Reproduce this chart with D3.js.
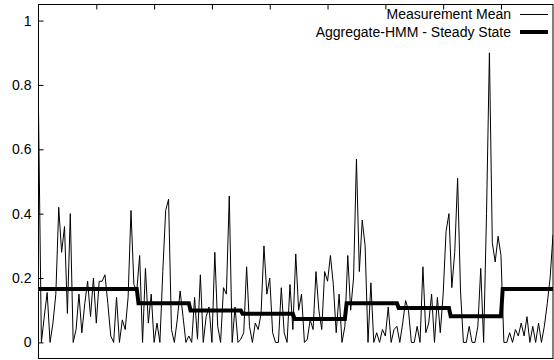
<!DOCTYPE html>
<html>
<head>
<meta charset="utf-8">
<script src="https://cdn.jsdelivr.net/npm/d3@7"></script>
<style>
  html, body { margin: 0; padding: 0; background: #fff; }
  svg { display: block; font-family: "Liberation Sans", Arial, sans-serif; }
</style>
</head>
<body>
<figure id="chart" style="margin:0"></figure>
<script>
// measurement mean, one value every 5 x-units (0 .. 890)
const measStep = 5;
const measValues = [
  0.72, 0.0, 0.08, 0.155, 0.0, 0.06, 0.15, 0.42, 0.28, 0.36,
  0.09, 0.40, 0.0, 0.04, 0.15, 0.03, 0.12, 0.19, 0.08, 0.20,
  0.06, 0.19, 0.19, 0.21, 0.12, 0.02, 0.0, 0.14, 0.0, 0.07,
  0.04, 0.14, 0.41, 0.18, 0.16, 0.27, 0.0, 0.23, 0.06, 0.15,
  0.0, 0.06, 0.0, 0.22, 0.41, 0.445, 0.04, 0.0, 0.07, 0.16,
  0.08, 0.0, 0.02, 0.0, 0.14, 0.01, 0.21, 0.0, 0.08, 0.11,
  0.0, 0.28, 0.05, 0.0, 0.17, 0.15, 0.455, 0.0, 0.11, 0.0,
  0.01, 0.03, 0.235, 0.05, 0.0, 0.06, 0.04, 0.09, 0.30, 0.15,
  0.20, 0.03, 0.0, 0.0, 0.17, 0.03, 0.0, 0.18, 0.04, 0.275,
  0.10, 0.15, 0.0, 0.01, 0.07, 0.04, 0.22, 0.10, 0.04, 0.22,
  0.19, 0.27, 0.18, 0.03, 0.15, 0.0, 0.05, 0.27, 0.10, 0.20,
  0.57, 0.22, 0.38, 0.30, 0.0, 0.185, 0.0, 0.03, 0.0, 0.04,
  0.02, 0.11, 0.0, 0.04, 0.05, 0.0, 0.06, 0.13, 0.10, 0.0,
  0.0, 0.05, 0.0, 0.235, 0.03, 0.06, 0.15, 0.0, 0.14, 0.03,
  0.15, 0.345, 0.40, 0.17, 0.28, 0.51, 0.16, 0.0, 0.0, 0.05,
  0.0, 0.0, 0.05, 0.23, 0.0, 0.40, 0.90, 0.31, 0.25, 0.33,
  0.27, 0.0, 0.0, 0.03, 0.0, 0.04, 0.02, 0.06, 0.02, 0.08,
  0.0, 0.05, 0.0, 0.06, 0.0, 0.05, 0.12, 0.20, 0.335
];

// aggregate HMM steady state levels between the edges
const stateEdges = [0, 170, 260, 350, 440, 530, 620, 710, 800, 890];
const stateLevels = [0.166, 0.122, 0.099, 0.089, 0.073, 0.122, 0.107, 0.081, 0.166];

const yTicks = [0, 0.2, 0.4, 0.6, 0.8, 1];
const xTicks = [100, 200, 300, 400, 500, 600, 700, 800];
const seriesNames = ["Measurement Mean", "Aggregate-HMM - Steady State"];

const width = 554;
const height = 360;
const margin = { top: 4.5, right: 1, bottom: 1.5, left: 38.5 };

const svg = d3.select("figure#chart")
  .append("svg")
  .attr("width", width)
  .attr("height", height);

const x = d3.scaleLinear()
  .domain([0, 890])
  .range([margin.left, width - margin.right]);

const y = d3.scaleLinear()
  .domain([-0.05, 1.05])
  .range([height - margin.bottom, margin.top]);

svg.append("clipPath")
  .attr("id", "plot-clip")
  .append("rect")
  .attr("x", x(0))
  .attr("y", y(1.05))
  .attr("width", x(890) - x(0))
  .attr("height", y(-0.05) - y(1.05));

// y axis, ticks pointing into the plot
const yAxis = svg.append("g")
  .attr("transform", "translate(" + x(0) + ",0)")
  .call(d3.axisRight(y).tickValues(yTicks).tickSize(5).tickFormat(d3.format("~g")));
yAxis.select(".domain").remove();
yAxis.selectAll("line").attr("stroke", "#000");
yAxis.selectAll("text")
  .attr("x", -7)
  .attr("text-anchor", "end")
  .attr("fill", "#000")
  .style("font-size", "14px");

// top ticks pointing down
const topAxis = svg.append("g")
  .attr("transform", "translate(0," + y(1.05) + ")")
  .call(d3.axisBottom(x).tickValues(xTicks).tickSize(5).tickFormat(""));
topAxis.select(".domain").remove();
topAxis.selectAll("line").attr("stroke", "#000");

// measurement mean
const measLine = d3.line()
  .x((d, i) => x(i * measStep))
  .y(d => y(d));

svg.append("path")
  .datum(measValues)
  .attr("clip-path", "url(#plot-clip)")
  .attr("fill", "none")
  .attr("stroke", "#000")
  .attr("stroke-width", 1)
  .attr("d", measLine);

// steady state as a step line
const statePoints = [];
stateLevels.forEach((v, i) => {
  statePoints.push([stateEdges[i] + (i > 0 ? 3 : 0), v]);
  statePoints.push([stateEdges[i + 1], v]);
});

svg.append("path")
  .datum(statePoints)
  .attr("clip-path", "url(#plot-clip)")
  .attr("fill", "none")
  .attr("stroke", "#000")
  .attr("stroke-width", 4)
  .attr("d", d3.line().x(d => x(d[0])).y(d => y(d[1])));

// border
svg.append("rect")
  .attr("x", x(0))
  .attr("y", y(1.05))
  .attr("width", x(890) - x(0))
  .attr("height", y(-0.05) - y(1.05))
  .attr("fill", "none")
  .attr("stroke", "#000")
  .attr("stroke-width", 1);

// legend
const legend = svg.append("g");
const legendRows = [
  { name: seriesNames[0], w: 1, yy: 14.5 },
  { name: seriesNames[1], w: 4, yy: 32 }
];
legendRows.forEach(r => {
  legend.append("text")
    .attr("x", 511)
    .attr("y", r.yy)
    .attr("dy", "0.35em")
    .attr("text-anchor", "end")
    .style("font-size", "14px")
    .text(r.name);
  legend.append("line")
    .attr("x1", 520)
    .attr("x2", 548)
    .attr("y1", r.yy)
    .attr("y2", r.yy)
    .attr("stroke", "#000")
    .attr("stroke-width", r.w);
});
</script>
</body>
</html>
